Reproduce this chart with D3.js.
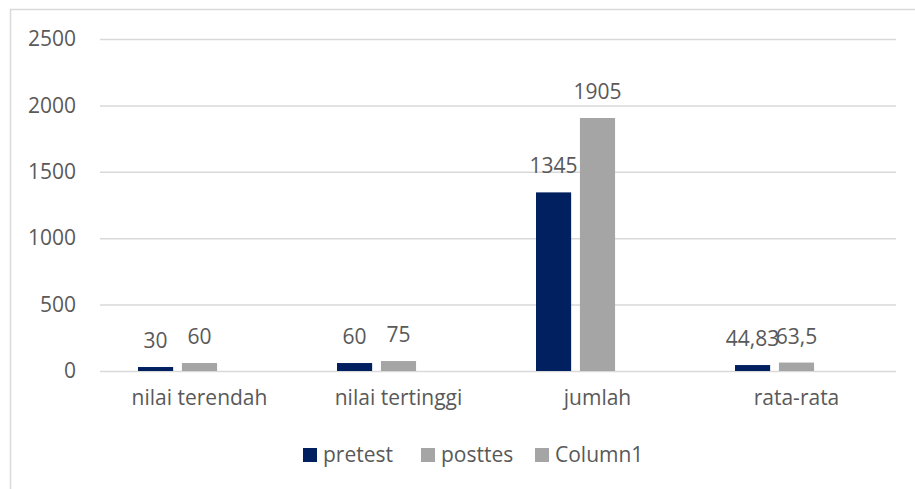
<!DOCTYPE html>
<html>
<head>
<meta charset="utf-8">
<script src="https://cdn.jsdelivr.net/npm/d3@7"></script>
<style>
  html, body { margin: 0; padding: 0; background: #fff; }
  svg text { font-family: "Open Sans", sans-serif; fill: #595959; }
</style>
</head>
<body>
<div id="chart"></div>
<script>
"use strict";

var categories = ["nilai terendah", "nilai tertinggi", "jumlah", "rata-rata"];
var seriesNames = ["pretest", "posttes", "Column1"];
var pretest = [30, 60, 1345, 44.83];
var posttes = [60, 75, 1905, 63.5];
var column1 = [null, null, null, null];
var pretestLabels = ["30", "60", "1345", "44,83"];
var posttesLabels = ["60", "75", "1905", "63,5"];
var yTicks = [0, 500, 1000, 1500, 2000, 2500];
var colors = ["#002060", "#a5a5a5", "#a5a5a5"];

var W = 915, H = 489;
var margin = {top: 39, right: 20, bottom: 118, left: 100},
    width = 896 - margin.left,
    height = 371 - margin.top;

var svg = d3.select("#chart").append("svg")
  .attr("width", W)
  .attr("height", H);

// outer chart border
svg.append("rect")
  .attr("x", 10.5).attr("y", 9.5)
  .attr("width", W + 20).attr("height", H + 20)
  .attr("fill", "none")
  .attr("stroke", "#d9d9d9")
  .attr("stroke-width", 1.5);

var g = svg.append("g")
  .attr("transform", "translate(" + margin.left + "," + margin.top + ")");

var x0 = d3.scaleBand().domain(categories).range([0, width]);
var x1 = d3.scaleBand().domain(seriesNames)
  .range([x0.bandwidth() / 2 - 61.5, x0.bandwidth() / 2 + 61.5])
  .paddingInner(0.2);
var y = d3.scaleLinear().domain([0, 2500]).range([height, 0]);

// gridlines
g.append("g").selectAll("line")
  .data(yTicks)
  .join("line")
  .attr("x1", 0).attr("x2", width)
  .attr("y1", function(d) { return y(d) + 0.5; })
  .attr("y2", function(d) { return y(d) + 0.5; })
  .attr("stroke", "#d9d9d9")
  .attr("stroke-width", 1.5);

// y axis labels
var yAxis = d3.axisLeft(y).tickValues(yTicks).tickFormat(d3.format("d"))
  .tickSize(0).tickPadding(24);
g.append("g").call(yAxis)
  .call(function(s) { s.select(".domain").remove(); })
  .selectAll("text")
  .style("font-size", "21px")
  .attr("fill", "#595959");

// x axis labels
var xAxis = d3.axisBottom(x0).tickSize(0).tickPadding(19);
g.append("g").attr("transform", "translate(0," + height + ")").call(xAxis)
  .call(function(s) { s.select(".domain").remove(); })
  .selectAll("text")
  .style("font-size", "21px")
  .attr("fill", "#595959");

var series = [pretest, posttes, column1];
var labels = [pretestLabels, posttesLabels, [null, null, null, null]];

series.forEach(function(vals, si) {
  var rows = categories.map(function(c, i) {
    return {cat: c, v: vals[i], label: labels[si][i]};
  }).filter(function(d) { return d.v != null; });

  g.append("g").selectAll("rect")
    .data(rows)
    .join("rect")
    .attr("x", function(d) { return x0(d.cat) + x1(seriesNames[si]); })
    .attr("y", function(d) { return y(d.v); })
    .attr("width", x1.bandwidth())
    .attr("height", function(d) { return height - y(d.v); })
    .attr("fill", colors[si]);

  g.append("g").selectAll("text")
    .data(rows)
    .join("text")
    .attr("x", function(d) { return x0(d.cat) + x1(seriesNames[si]) + x1.bandwidth() / 2; })
    .attr("y", function(d) { return y(d.v) - 19; })
    .attr("text-anchor", "middle")
    .style("font-size", "21px")
    .text(function(d) { return d.label; });
});

// legend
var legendX = [303, 421, 535];
var legend = svg.append("g").attr("transform", "translate(0,455)");
seriesNames.forEach(function(name, i) {
  legend.append("rect")
    .attr("x", legendX[i]).attr("y", -7)
    .attr("width", 14).attr("height", 14)
    .attr("fill", colors[i]);
  legend.append("text")
    .attr("x", legendX[i] + 20).attr("y", 0)
    .attr("dy", "0.35em")
    .style("font-size", "21px")
    .text(name);
});
</script>
</body>
</html>
